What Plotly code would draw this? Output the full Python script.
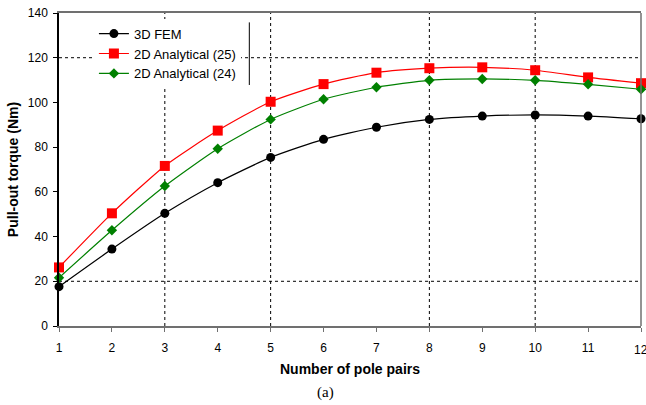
import plotly.graph_objects as go

# Number of pole pairs
pole_pairs = [1, 2, 3, 4, 5, 6, 7, 8, 9, 10, 11, 12]

# Pull-out torque (Nm)
fem_3d = [17.6, 34.4, 50.4, 64.1, 75.4, 83.5, 88.9, 92.4, 93.9, 94.4, 93.9, 92.7]
analytical_25 = [26.2, 50.4, 71.6, 87.4, 100.3, 108.2, 113.3, 115.3, 115.7, 114.4, 111.2, 108.6]
analytical_24 = [21.6, 42.8, 62.6, 79.3, 92.4, 101.4, 106.8, 109.9, 110.5, 109.9, 108.1, 105.9]

grid_x = [3, 5, 8, 10]
grid_y = [20, 120]

fig = go.Figure()

series = [
    ("3D FEM", fem_3d, "#000000", "circle", 9),
    ("2D Analytical (25)", analytical_25, "#ff0000", "square", 10),
    ("2D Analytical (24)", analytical_24, "#008000", "diamond", 8),
]
for name, vals, color, sym, size in series:
    fig.add_trace(go.Scatter(
        x=pole_pairs, y=vals, name=name, mode="lines+markers",
        line=dict(color=color, width=1.2, shape="spline", smoothing=0.6),
        marker=dict(symbol=sym, size=size, color=color),
        cliponaxis=False,
    ))

shapes = []
for gx in grid_x:
    shapes.append(dict(type="line", xref="x", yref="paper", x0=gx, x1=gx, y0=0, y1=1,
                       line=dict(color="#000000", width=1, dash="dot"), layer="below"))
for gy in grid_y:
    shapes.append(dict(type="line", xref="paper", yref="y", x0=0, x1=1, y0=gy, y1=gy,
                       line=dict(color="#000000", width=1, dash="dot"), layer="below"))
# right frame edge
shapes.append(dict(type="line", xref="paper", yref="paper", x0=1, x1=1, y0=0, y1=1,
                   line=dict(color="#707070", width=1.5)))
# divider line beside the legend
shapes.append(dict(type="line", xref="paper", yref="paper", x0=0.327, x1=0.327, y0=0.77, y1=0.97,
                   line=dict(color="#000000", width=1)))

fig.update_layout(
    width=646, height=405,
    margin=dict(l=59, r=5, t=13, b=79),
    paper_bgcolor="white", plot_bgcolor="white",
    font=dict(family="Liberation Sans, Arial, sans-serif", size=12, color="#000000"),
    showlegend=True,
    legend=dict(x=0.06, y=0.982, xanchor="left", yanchor="top",
                bgcolor="white", borderwidth=0,
                font=dict(size=13, family="Liberation Sans, Arial, sans-serif"),
                itemwidth=30, tracegroupgap=0),
    shapes=shapes,
    xaxis=dict(range=[1, 12], tickmode="array", tickvals=pole_pairs,
               showgrid=False, zeroline=False, showline=True, mirror=True,
               linecolor="#707070", linewidth=1.5,
               ticks="outside", ticklen=4, tickcolor="#707070",
               tickfont=dict(size=12), ticklabelstandoff=6,
               title=dict(text="<b>Number of pole pairs</b>", font=dict(size=14), standoff=10)),
    yaxis=dict(range=[0, 140], tickmode="array", tickvals=[0, 20, 40, 60, 80, 100, 120, 140],
               showgrid=False, zeroline=False, showline=True, linecolor="#000000", linewidth=1.5,
               ticks="outside", ticklen=4, tickcolor="#000000",
               tickfont=dict(size=12), ticklabelstandoff=3,
               title=dict(text="<b>Pull-out torque (Nm)</b>", font=dict(size=14), standoff=6)),
    annotations=[
        dict(text="12", xref="x", yref="paper", x=12, y=-0.048,
             xanchor="center", yanchor="top", showarrow=False,
             font=dict(size=12)),
        dict(text="(a)", xref="paper", yref="paper", x=0.458, y=-0.214,
             xanchor="center", yanchor="middle", showarrow=False,
             font=dict(family="Liberation Serif, Times New Roman, serif", size=15)),
    ],
)

fig.write_html("out.html")
